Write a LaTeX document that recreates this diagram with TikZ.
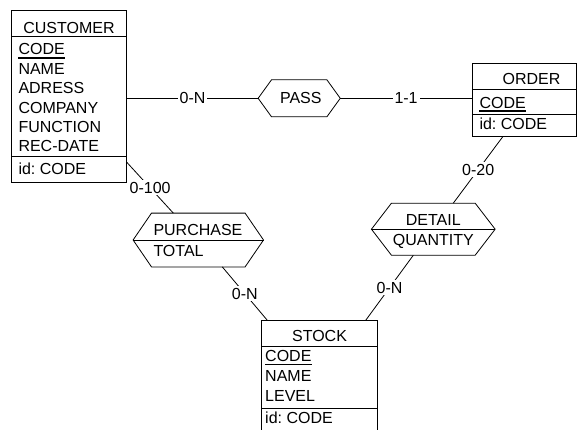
\documentclass[tikz,border=0pt]{standalone}
\usepackage{fontspec}
\setmainfont{Liberation Sans}
\usetikzlibrary{calc}

\tikzset{
  box/.style={draw,line width=0.8pt,inner sep=0pt},
  hexbox/.style={inner sep=0pt},
  head/.style={anchor=base,inner sep=0pt},
  attr/.style={anchor=base west,inner sep=0pt},
  card/.style={fill=white,inner sep=2pt},
  link/.style={line width=0.8pt},
  keyline/.style={line width=1.3pt}
}

\begin{document}
\begin{tikzpicture}[x=1pt,y=-1pt,line join=miter,font=\fontsize{16}{19}\selectfont\frenchspacing]
\useasboundingbox (0,0) rectangle (577,430);
\clip (0,0) rectangle (577,430);

% ---- entity CUSTOMER ----
\node[box,minimum width=115pt,minimum height=172pt] (customer) at (69,96) {};
\draw[link] ($(customer.north west)+(0,27)$) -- ($(customer.north east)+(0,27)$);
\draw[link] ($(customer.north west)+(0,147)$) -- ($(customer.north east)+(0,147)$);
\node[head] (customer-name) at (69,33.3) {CUSTOMER};
\node[attr] (customer-code) at (18.3,55) {CODE};
\draw[keyline] ($(customer-code.base west)+(0,3)$) -- ($(customer-code.base east)+(0,3)$);
\node[attr] (customer-nm) at (18.3,74.4) {NAME};
\node[attr] (customer-adr) at (18.3,93.8) {ADRESS};
\node[attr] (customer-cmp) at (18.3,113.2) {COMPANY};
\node[attr] (customer-fun) at (18.3,132.6) {FUNCTION};
\node[attr] (customer-rec) at (18.3,152) {REC-DATE};
\node[attr] (customer-id) at (18.3,175) {id: CODE};

% ---- entity ORDER ----
\node[box,minimum width=104.2pt,minimum height=72.7pt] (order) at (524.4,99.65) {};
\draw[link] ($(order.north west)+(0,26.7)$) -- ($(order.north east)+(0,26.7)$);
\draw[link] ($(order.north west)+(0,51.7)$) -- ($(order.north east)+(0,51.7)$);
\node[head] (order-name) at (531.5,85) {ORDER};
\node[attr] (order-code) at (479.3,108.3) {CODE};
\draw[keyline] ($(order-code.base west)+(0,2.6)$) -- ($(order-code.base east)+(0,2.6)$);
\node[attr] (order-id) at (479.3,130) {id: CODE};

% ---- entity STOCK (runs off the bottom) ----
\node[box,minimum width=115.6pt,minimum height=119.3pt] (stock) at (319.5,380.35) {};
\draw[link] ($(stock.north west)+(0,26)$) -- ($(stock.north east)+(0,26)$);
\draw[link] ($(stock.north west)+(0,87.6)$) -- ($(stock.north east)+(0,87.6)$);
\node[head] (stock-name) at (319.5,341.7) {STOCK};
\node[attr] (stock-code) at (265,361.7) {CODE};
\draw[keyline] ($(stock-code.base west)+(0,3)$) -- ($(stock-code.base east)+(0,3)$);
\node[attr] (stock-nm) at (265,381.5) {NAME};
\node[attr] (stock-lvl) at (265,401.5) {LEVEL};
\node[attr] (stock-id) at (265,423.3) {id: CODE};

% ---- relationship PASS ----
\node[hexbox,minimum width=81.7pt,minimum height=36.7pt] (pass) at (299.2,98.3) {};
\draw[link] (pass.west) -- ($(pass.north west)+(13.4,0)$) -- ($(pass.north east)+(-13.4,0)$)
  -- (pass.east) -- ($(pass.south east)+(-13.4,0)$) -- ($(pass.south west)+(13.4,0)$) -- cycle;
\node[head] (pass-name) at (300.8,103.3) {PASS};

% ---- relationship PURCHASE ----
\node[hexbox,minimum width=130pt,minimum height=53.4pt] (purchase) at (198.3,240) {};
\draw[link] (purchase.west) -- ($(purchase.north west)+(18.4,0)$) -- ($(purchase.north east)+(-18.4,0)$)
  -- (purchase.east) -- ($(purchase.south east)+(-18.4,0)$) -- ($(purchase.south west)+(18.4,0)$) -- cycle;
\draw[link] (purchase.west) -- (purchase.east);
\node[attr] (purchase-name) at (153.3,235) {PURCHASE};
\node[attr] (purchase-tot) at (153.3,256.7) {TOTAL};

% ---- relationship DETAIL ----
\node[hexbox,minimum width=123.3pt,minimum height=51.7pt] (detail) at (433.3,229.2) {};
\draw[link] (detail.west) -- ($(detail.north west)+(20,0)$) -- ($(detail.north east)+(-20,0)$)
  -- (detail.east) -- ($(detail.south east)+(-20,0)$) -- ($(detail.south west)+(20,0)$) -- cycle;
\draw[link] (detail.west) -- (detail.east);
\node[head] (detail-name) at (433.3,225) {DETAIL};
\node[head] (detail-qty) at (433.3,245) {QUANTITY};

% ---- roles with cardinalities ----
\draw[link] (customer.east |- pass.west) -- (pass.west) node[card,midway] (card-cp) {0-N};
\draw[link] (pass.east) -- (order.west |- pass.east) node[card,midway] (card-po) {1-1};
\draw[link] ($(customer.south east)+(0,-20)$) -- ($(purchase.north)+(-25,0)$) node[card,midway] (card-cu) {0-100};
\draw[link] ($(purchase.south)+(24,0)$) -- ($(stock.north west)+(6,0)$) node[card,midway] (card-ps) {0-N};
\draw[link] ($(order.south)+(-21.4,0)$) -- ($(detail.north)+(20,0)$) node[card,midway] (card-od) {0-20};
\draw[link] ($(detail.south)+(-20,0)$) -- ($(stock.north east)+(-12,0)$) node[card,midway] (card-ds) {0-N};

\end{tikzpicture}
\end{document}
